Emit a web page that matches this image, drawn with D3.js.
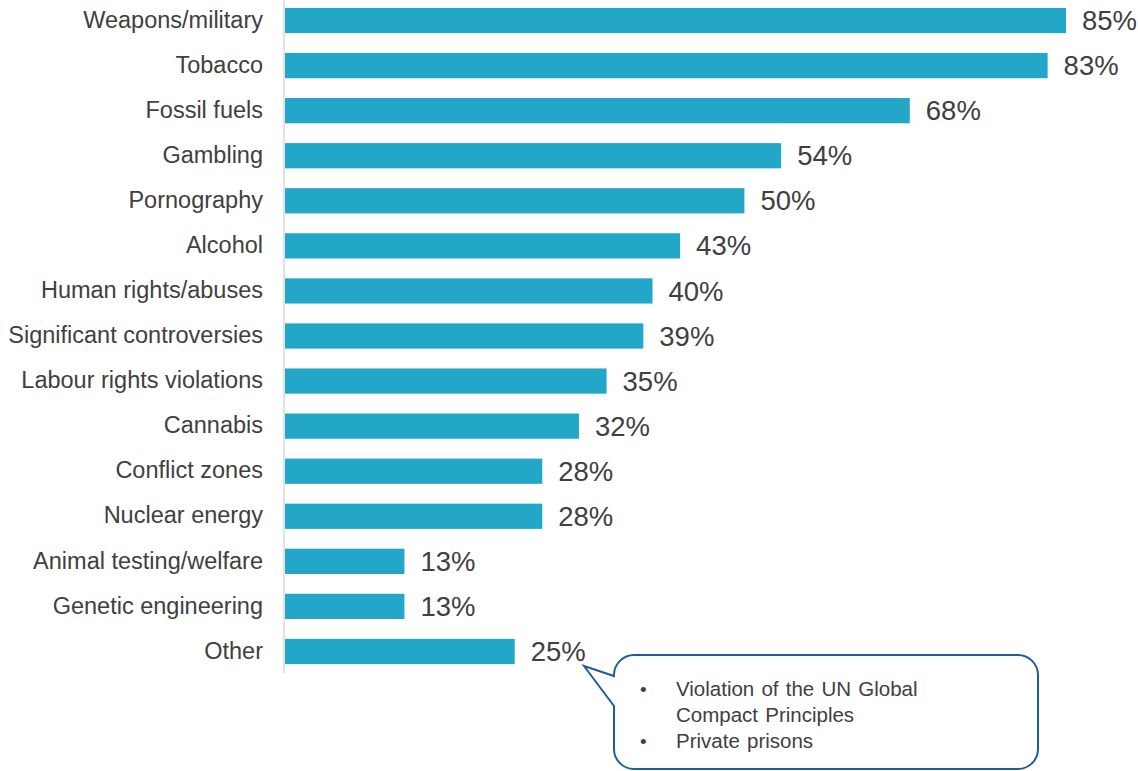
<!DOCTYPE html>
<html>
<head>
<meta charset="utf-8">
<script src="https://cdn.jsdelivr.net/npm/d3@7"></script>
<style>
  html, body { margin: 0; padding: 0; background: #fff; }
  svg { display: block; }
  text { font-family: "Liberation Sans", Arial, sans-serif; }
</style>
</head>
<body>
<svg id="chart" width="1138" height="771"></svg>
<script>
// Exclusion categories and share of respondents
const categories = [
  "Weapons/military", "Tobacco", "Fossil fuels", "Gambling", "Pornography",
  "Alcohol", "Human rights/abuses", "Significant controversies",
  "Labour rights violations", "Cannabis", "Conflict zones", "Nuclear energy",
  "Animal testing/welfare", "Genetic engineering", "Other"
];
const values = [85, 83, 68, 54, 50, 43, 40, 39, 35, 32, 28, 28, 13, 13, 25];
const otherNotes = [
  ["Violation of the UN Global", "Compact Principles"],
  ["Private prisons"]
];

const svg = d3.select("#chart");
const barColor = "#23a7c9";
const textColor = "#404040";

const x = d3.scaleLinear().domain([0, 85]).range([285, 1066]);
const y = d3.scaleBand().domain(categories).range([-2, 674]).paddingInner(0.44).paddingOuter(0.22);

// Vertical baseline
svg.append("line")
  .attr("x1", 284).attr("x2", 284)
  .attr("y1", 0).attr("y2", 673)
  .attr("stroke", "#d9d9d9").attr("stroke-width", 1.5);

// Bars
svg.append("g").selectAll("rect")
  .data(categories)
  .join("rect")
  .attr("x", x(0))
  .attr("y", d => y(d))
  .attr("width", (d, i) => x(values[i]) - x(0))
  .attr("height", y.bandwidth())
  .attr("fill", barColor);

// Category labels
svg.append("g").selectAll("text")
  .data(categories)
  .join("text")
  .attr("x", 263)
  .attr("y", d => y(d) + y.bandwidth() / 2 - 1)
  .attr("dy", "0.35em")
  .attr("text-anchor", "end")
  .attr("font-size", 23.5)
  .attr("fill", textColor)
  .text(d => d);

// Value labels
svg.append("g").selectAll("text")
  .data(categories)
  .join("text")
  .attr("x", (d, i) => x(values[i]) + 16)
  .attr("y", d => y(d) + y.bandwidth() / 2)
  .attr("dy", "0.35em")
  .attr("font-size", 27.5)
  .attr("fill", textColor)
  .text((d, i) => values[i] + "%");

// Callout describing "Other"
const bx = 614, by = 655, bw = 424, bh = 114, r = 20;
const tipX = 584, tipY = 666;
const j1 = 676, j2 = 706;
const path = d3.path();
path.moveTo(bx + r, by);
path.lineTo(bx + bw - r, by);
path.arcTo(bx + bw, by, bx + bw, by + r, r);
path.lineTo(bx + bw, by + bh - r);
path.arcTo(bx + bw, by + bh, bx + bw - r, by + bh, r);
path.lineTo(bx + r, by + bh);
path.arcTo(bx, by + bh, bx, by + bh - r, r);
path.lineTo(bx, j2);
path.lineTo(tipX, tipY);
path.lineTo(bx, j1);
path.arcTo(bx, by, bx + r, by, r);
path.closePath();
svg.append("path")
  .attr("d", path.toString())
  .attr("fill", "#fff")
  .attr("stroke", "#1f5d99")
  .attr("stroke-width", 2);

const lines = [];
otherNotes.forEach(note => note.forEach((t, k) => lines.push({ t, bullet: k === 0 })));
const note = svg.append("g");
lines.forEach((l, i) => {
  const ly = 689 + i * 26;
  if (l.bullet) {
    note.append("text").attr("x", 640).attr("y", ly).attr("dy", "0.35em")
      .attr("font-size", 19).attr("fill", textColor).text("•");
  }
  note.append("text").attr("x", 676).attr("y", ly).attr("dy", "0.35em")
    .attr("font-size", 20.5).attr("word-spacing", 1.5).attr("fill", textColor).text(l.t);
});
</script>
</body>
</html>
